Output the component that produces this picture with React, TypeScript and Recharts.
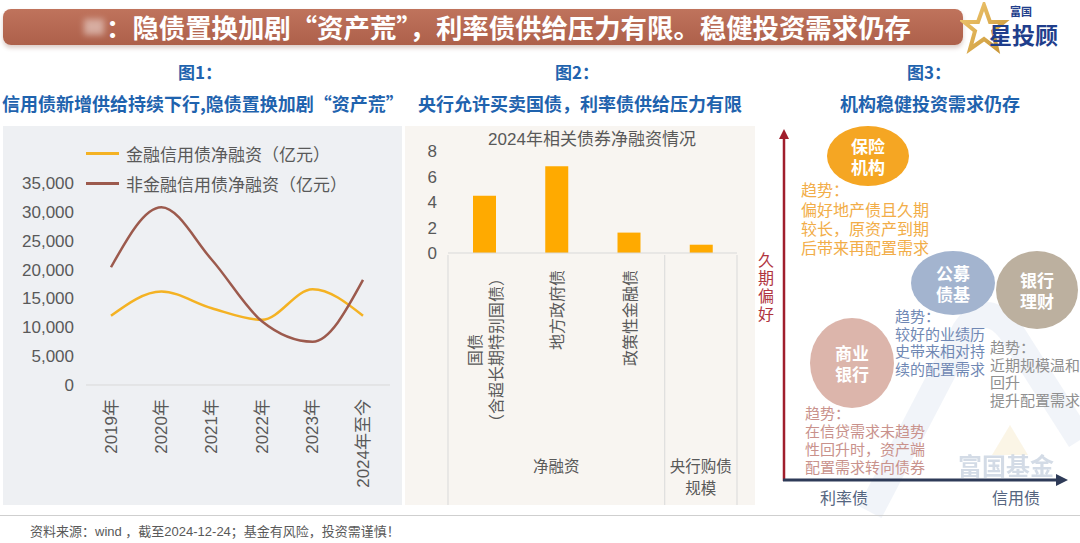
import React from 'react';
import { LineChart, Line, XAxis, YAxis, Legend, BarChart, Bar } from 'recharts';

// chart 1: credit bond net financing (100m yuan)
const years = ['2019年', '2020年', '2021年', '2022年', '2023年', '2024年至今'];
const finCredit = [12000, 16200, 13300, 11300, 16600, 12000];
const nonFinCredit = [20400, 30800, 21700, 11000, 7500, 18200];
const lineTicks = [0, 5000, 10000, 15000, 20000, 25000, 30000, 35000];

// chart 2: 2024 net financing by bond type (trillion yuan)
const bondCats = ['国债\n（含超长期特别国债）', '地方政府债', '政策性金融债', ''];
const bondGroups = ['净融资', '净融资', '净融资', '央行购债\n规模'];
const bondValues = [4.5, 6.8, 1.6, 0.65];
const barTicks = [0, 2, 4, 6, 8];

const lineData = years.map((y, i) => ({ year: y, fin: finCredit[i], nonFin: nonFinCredit[i] }));
const barData = bondCats.map((c, i) => ({ cat: c, group: bondGroups[i], value: bondValues[i] }));

// chart 3: institution diagram (decoration)
const bubbles = [
  { cx: 868, cy: 156, rx: 41, ry: 30, fill: '#f5a623', label: '保险\n机构' },
  { cx: 953, cy: 283, rx: 42, ry: 32, fill: '#a3b4cf', label: '公募\n债基' },
  { cx: 1037, cy: 290, rx: 41, ry: 39, fill: '#bcb09f', label: '银行\n理财' },
  { cx: 852, cy: 363, rx: 42, ry: 45, fill: '#dcb5ab', label: '商业\n银行' },
];
const trends = [
  { x: 801, y: 190, gap: 19.3, size: 16, color: '#f2ad48', text: '趋势：\n偏好地产债且久期\n较长，原资产到期\n后带来再配置需求' },
  { x: 895, y: 316, gap: 17.5, size: 15, color: '#7088b4', text: '趋势：\n较好的业绩历\n史带来相对持\n续的配置需求' },
  { x: 990, y: 347, gap: 17.5, size: 15, color: '#8f8f8f', text: '趋势：\n近期规模温和\n回升\n提升配置需求' },
  { x: 805, y: 413, gap: 18, size: 15, color: '#c9928c', text: '趋势：\n在信贷需求未趋势\n性回升时，资产端\n配置需求转向债券' },
];

const FONT = '"Liberation Sans", "Noto Sans CJK SC", sans-serif';
const CJK = '"Noto Sans CJK SC", "Liberation Sans", sans-serif';
const GREY = '#595959';

const YearTick = (props: any) => {
  const { x, y, payload } = props;
  return (
    <text
      transform={`translate(${x},${y + 6}) rotate(-90)`}
      textAnchor="end"
      dominantBaseline="central"
      fontSize={17}
      fill={GREY}
      fontFamily={FONT}
    >
      {payload.value}
    </text>
  );
};

const LineLegend = (props: any) => {
  const { payload = [] } = props;
  return (
    <div>
      {payload.map((p: any) => (
        <div key={p.value} style={{ display: 'flex', alignItems: 'center', height: 30 }}>
          <span style={{ width: 33, height: 3, background: p.color, display: 'inline-block' }} />
          <span style={{ marginLeft: 7, fontSize: 17, color: GREY, fontFamily: CJK, whiteSpace: 'nowrap' }}>{p.value}</span>
        </div>
      ))}
    </div>
  );
};

const BAR_BAND = (350 - 43 - 18) / bondCats.length;

const BondTick = (props: any) => {
  const { x, y, index } = props;
  const cat = bondCats[index];
  const group = bondGroups[index];
  const lines = cat ? cat.split('\n') : [];
  const maxLen = Math.max(0, ...lines.map((l) => l.length));
  const cy = y + 15 + (maxLen * 16) / 2;
  const first = bondGroups.indexOf(group);
  const last = bondGroups.lastIndexOf(group);
  const isMid = Math.floor((first + last) / 2) === index;
  const isEnd = last === index;
  return (
    <g>
      {index === 0 && <line x1={x - BAR_BAND / 2} x2={x - BAR_BAND / 2} y1={y} y2={y + 250} stroke="#d9d9d9" />}
      {isEnd && <line x1={x + BAR_BAND / 2} x2={x + BAR_BAND / 2} y1={y} y2={y + 250} stroke="#d9d9d9" />}
      {lines.map((l, i) => (
        <text
          key={i}
          transform={`translate(${x + (i - (lines.length - 1) / 2) * 21},${cy}) rotate(-90)`}
          textAnchor="middle"
          dominantBaseline="central"
          fontSize={16}
          fill={GREY}
          fontFamily={CJK}
        >
          {l}
        </text>
      ))}
      {isMid &&
        group.split('\n').map((g, i) => (
          <text key={'g' + i} x={x} y={y + 217 + i * 22} textAnchor="middle" fontSize={15.5} fill={GREY} fontFamily={CJK}>
            {g}
          </text>
        ))}
    </g>
  );
};

export default function App() {
  return (
    <div style={{ position: 'absolute', left: 0, top: 0, width: 1080, height: 543, background: '#fff', overflow: 'hidden', fontFamily: CJK }}>
      {/* header */}
      <div style={{ position: 'absolute', left: 3, top: 9, width: 960, height: 36, borderRadius: 8, background: 'linear-gradient(#bf735c, #ad604a)', boxShadow: '0 3px 4px rgba(120,60,40,0.25)' }} />
      <div style={{ position: 'absolute', left: 84, top: 19, width: 20, height: 16, background: 'rgba(255,255,255,0.45)', filter: 'blur(3px)' }} />
      <div style={{ position: 'absolute', left: 106, top: 9, height: 36, lineHeight: '36px', color: '#fff', fontWeight: 700, fontSize: 26.4, whiteSpace: 'nowrap' }}>
        ：隐债置换加剧“资产荒”，利率债供给压力有限。稳健投资需求仍存
      </div>
      {/* logo */}
      <svg style={{ position: 'absolute', left: 960, top: 2 }} width={110} height={52}>
        <defs>
          <linearGradient id="star" x1="0" x2="1" y1="0" y2="1">
            <stop offset="0" stopColor="#f0c770" />
            <stop offset="1" stopColor="#c99636" />
          </linearGradient>
        </defs>
        <polygon points="24,3 30,20 44,20 33,29 37,47 24,37 10,47 15,29 4,20 18,20" fill="none" stroke="url(#star)" strokeWidth={4} />
        <text x={50} y={14} fontSize={11} fontWeight={700} fill="#1f3e8c" fontFamily={CJK}>富国</text>
        <text x={29} y={42} fontSize={23} fontWeight={700} fill="#1f3e8c" fontFamily={CJK}>星投顾</text>
      </svg>

      {/* sub headings */}
      {[
        { l: 178, t: '图1：' },
        { l: 555, t: '图2：' },
        { l: 907, t: '图3：' },
      ].map((h) => (
        <div key={h.t} style={{ position: 'absolute', left: h.l, top: 61, fontSize: 17, fontWeight: 700, color: '#1f63ae', whiteSpace: 'nowrap', lineHeight: '22px' }}>{h.t}</div>
      ))}
      {[
        { l: 2, t: '信用债新增供给持续下行,隐债置换加剧“资产荒”' },
        { l: 418, t: '央行允许买卖国债，利率债供给压力有限' },
        { l: 840, t: '机构稳健投资需求仍存' },
      ].map((h) => (
        <div key={h.t} style={{ position: 'absolute', left: h.l, top: 92, fontSize: 18, fontWeight: 700, color: '#1f63ae', whiteSpace: 'nowrap', lineHeight: '22px' }}>{h.t}</div>
      ))}

      {/* panel backgrounds */}
      <div style={{ position: 'absolute', left: 3, top: 126, width: 399, height: 379, background: '#eef0f3' }} />
      <div style={{ position: 'absolute', left: 405, top: 126, width: 350, height: 379, background: '#f8f5f1' }} />

      {/* chart 1 */}
      <div style={{ position: 'absolute', left: 0, top: 120 }}>
        <LineChart width={405} height={390} data={lineData} margin={{ top: 63, right: 15, bottom: 0, left: 0 }}>
          <XAxis
            dataKey="year"
            interval={0}
            height={125}
            padding={{ left: 25, right: 27 }}
            axisLine={{ stroke: '#d9d9d9' }}
            tickLine={false}
            tick={<YearTick />}
          />
          <YAxis
            width={86}
            domain={[0, 35000]}
            ticks={lineTicks}
            axisLine={false}
            tickLine={false}
            tickMargin={6}
            tickFormatter={(v: number) => v.toLocaleString('en-US')}
            tick={{ fontSize: 17, fill: GREY, fontFamily: FONT }}
          />
          <Legend
            layout="vertical"
            align="center"
            verticalAlign="middle"
            content={<LineLegend />}
            wrapperStyle={{ left: 86, top: 18, width: 'auto' }}
          />
          <Line type="monotone" dataKey="fin" name="金融信用债净融资（亿元）" stroke="#f4b223" strokeWidth={2.5} dot={false} isAnimationActive={false} />
          <Line type="monotone" dataKey="nonFin" name="非金融信用债净融资（亿元）" stroke="#9c5a4d" strokeWidth={2.5} dot={false} isAnimationActive={false} />
        </LineChart>
      </div>

      {/* chart 2 */}
      <div style={{ position: 'absolute', left: 405, top: 120 }}>
        <BarChart width={350} height={385} data={barData} margin={{ top: 31, right: 18, bottom: 0, left: 0 }}>
          <XAxis dataKey="cat" interval={0} height={252} axisLine={{ stroke: '#d9d9d9' }} tickLine={false} tickSize={0} tick={<BondTick />} />
          <YAxis
            width={43}
            domain={[0, 8]}
            ticks={barTicks}
            axisLine={false}
            tickLine={false}
            tickMargin={5}
            tick={{ fontSize: 17, fill: GREY, fontFamily: FONT }}
          />
          <Bar dataKey="value" fill="#ffaa00" barSize={23} isAnimationActive={false} />
        </BarChart>
      </div>
      <div style={{ position: 'absolute', left: 405, width: 374, top: 129, textAlign: 'center', fontSize: 17, color: GREY, fontFamily: FONT, lineHeight: '22px' }}>
        2024年相关债券净融资情况
      </div>

      {/* chart 3: diagram */}
      <svg style={{ position: 'absolute', left: 0, top: 0 }} width={1080} height={543}>
        <defs>
          <marker id="arrUp" markerWidth="10" markerHeight="10" refX="5" refY="5" orient="auto" markerUnits="userSpaceOnUse">
            <path d="M0,0 L10,5 L0,10 z" fill="#a01e2c" />
          </marker>
          <marker id="arrRight" markerWidth="12" markerHeight="12" refX="6" refY="6" orient="auto" markerUnits="userSpaceOnUse">
            <path d="M0,0 L12,6 L0,12 z" fill="#2e3b58" />
          </marker>
        </defs>
        {/* faint watermark */}
        <path d="M870,512 L965,330 Q985,300 1010,330 L1080,440" fill="none" stroke="#cfdcec" strokeWidth={26} opacity={0.3} />
        <path d="M992,455 L1010,425 L1028,455 z" fill="#f3e2b8" opacity={0.35} />
        <text x={958} y={475} fontSize={24} fontWeight={700} fill="#c5d0de" opacity={0.75} fontFamily={CJK}>富国基金</text>

        <line x1={784} y1={481} x2={784} y2={134} stroke="#a01e2c" strokeWidth={2.5} markerEnd="url(#arrUp)" />
        <line x1={783} y1={480} x2={1062} y2={480} stroke="#2e3b58" strokeWidth={3} markerEnd="url(#arrRight)" />

        <text x={820} y={504} fontSize={16} fill="#556580" fontFamily={CJK}>利率债</text>
        <text x={992} y={504} fontSize={16} fill="#556580" fontFamily={CJK}>信用债</text>

        {bubbles.map((b) => (
          <ellipse key={b.label} cx={b.cx} cy={b.cy} rx={b.rx} ry={b.ry} fill={b.fill} />
        ))}

        {/* footer */}
        <line x1={0} x2={1080} y1={515.5} y2={515.5} stroke="#cfcfcf" />
        <text x={30} y={536} fontSize={13} fill={GREY} fontFamily={FONT}>
          资料来源：wind ，截至2024-12-24；基金有风险，投资需谨慎！
        </text>
      </svg>
      {bubbles.map((b) => (
        <div
          key={b.label}
          style={{ position: 'absolute', left: b.cx - 40, top: b.cy - 21, width: 80, textAlign: 'center', whiteSpace: 'pre', fontSize: 17, lineHeight: '21px', fontWeight: 700, color: '#fff' }}
        >
          {b.label}
        </div>
      ))}
      {trends.map((t) => (
        <div
          key={t.text}
          style={{ position: 'absolute', left: t.x, top: t.y - t.gap / 2, whiteSpace: 'pre', fontSize: t.size, lineHeight: `${t.gap}px`, color: t.color }}
        >
          {t.text}
        </div>
      ))}
      <div style={{ position: 'absolute', left: 757, top: 252, writingMode: 'vertical-rl', fontSize: 16, lineHeight: '18px', letterSpacing: 2, color: '#b03440' }}>
        久期偏好
      </div>
    </div>
  );
}
